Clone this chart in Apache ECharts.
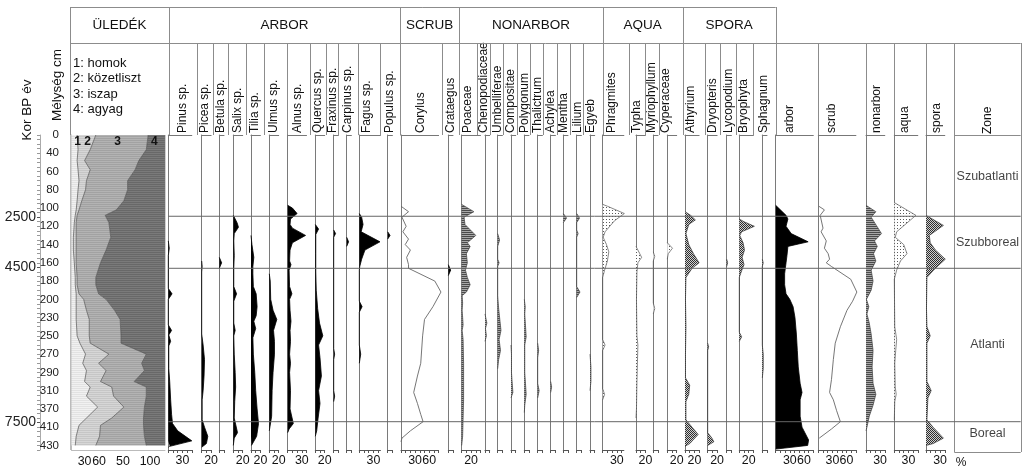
<!DOCTYPE html>
<html><head><meta charset="utf-8">
<script src="https://cdn.jsdelivr.net/npm/echarts@6/dist/echarts.min.js"></script>
<style>html,body{margin:0;padding:0;background:#fff}#c{width:1024px;height:473px}</style>
</head><body><div id="c"></div>
<script>
// ---------- DATA ----------
// depth scale (cm) – labels are equally spaced slots on the diagram
const depthLabels = [0,40,60,80,100,120,140,160,180,200,230,250,270,290,310,370,410,430];
const ageLabels = [2500, 4500, 7500];
const agePos = [4.5, 7.25, 15.75];          // position on depth-slot scale
const zoneBounds = [0, 4.45, 7.3, 15.72, 17.0];
const zoneNames = ['Szubatlanti','Szubboreal','Atlanti','Boreal'];
const groupNames = ['ÜLEDÉK','ARBOR','SCRUB','NONARBOR','AQUA','SPORA'];
const legendLines = ['1: homok','2: közetliszt','3: iszap','4: agyag'];
const sedNums = ['1','2','3','4'];
const sedScaleLabels = ['30','60','50','100'];

// sediment composition (%), by depth slot
const sedDepth   = [0,0.8,1.4,1.9,2.5,3.0,3.6,4.1,4.4,4.8,5.6,6.3,7.0,7.8,8.2,8.7,9.0,9.6,10.1,11.0,11.4,12.0,12.5,12.9,13.5,13.8,14.3,14.9,15.5,15.9,16.5,17.0];
const homok      = [6,7,6,7,8,7,6,5,4,3,2,2,3,4,4,5,5,5,5,6,9,15,12,16,14,20,16,28,16,8,5,4];
const kozetliszt = [20,13,8,13,8,8,5,3,2,2,3,3,2,2,2,3,8,11,14,13,11,25,17,21,17,23,29,28,27,23,25,22];
const iszap      = [56,60,58,48,44,45,45,40,30,35,37,32,26,20,20,21,24,30,33,34,33,40,46,41,36,37,35,22,34,46,48,54];
const agyag      = [18,20,28,32,40,40,44,52,64,60,58,63,69,74,74,71,63,54,48,47,47,20,25,22,33,20,20,22,23,23,22,20];

// taxa: [depth slot, %]
const pinus = [[5.8,0],[6.2,2],[6.6,0],[8.4,0],[8.7,8],[9.0,0],[10.4,0],[10.7,7],[10.95,1],[11.3,5],[11.55,1],[12.8,1],[13.5,3],[14.5,5],[15.3,7],[15.8,9],[16.2,20],[16.75,50],[17.05,3],[17.1,0]];
const picea = [[6.9,0],[7.2,1],[7.5,0],[10.9,0],[11.5,3],[12.3,6],[13.2,5],[14.0,3],[14.5,1],[15.6,1],[16.0,6],[16.5,13],[16.9,10],[17.1,0]];
const betula = [[6.7,0],[7.0,5],[7.3,0]];
const salix = [[4.4,0],[4.8,8],[5.05,11],[5.4,2],[5.8,1],[6.6,2],[7.3,1],[8.3,1],[8.7,7],[9.1,1],[10.3,1],[10.7,4],[11.0,1],[12.0,2],[13.0,4],[13.8,5],[14.6,3],[15.5,2],[16.3,9],[16.6,2],[17.0,0]];
const tilia = [[5.5,0],[6.0,2],[6.7,6],[7.2,4],[7.6,4],[8.3,5],[8.7,11],[9.4,13],[9.9,11],[10.2,6],[10.6,10],[11.1,4],[12.0,5],[13.0,8],[14.0,10],[15.0,13],[15.8,16],[16.5,12],[17.0,1]];
const ulmus = [[7.6,0],[8.0,2],[9.0,3],[9.6,8],[10.1,16],[10.7,9],[11.3,11],[12.0,11],[13.0,8],[14.0,6],[15.4,5],[16.2,0]];
const alnus = [[3.85,0],[4.0,10],[4.3,20],[4.6,6],[4.9,5],[5.1,10],[5.5,38],[5.9,10],[6.3,5],[6.9,4],[7.1,7],[7.4,3],[8.3,4],[8.7,9],[9.0,4],[9.6,5],[10.2,7],[10.7,5],[11.3,6],[12.0,4],[12.5,6],[13.0,4],[14.0,6],[15.0,5],[15.8,12],[16.1,3],[16.3,0]];
const quercus = [[4.9,0],[5.15,7],[5.45,1],[6.5,1],[7.5,1],[8.5,2],[9.5,5],[10.3,9],[11.0,16],[11.5,7],[12.2,10],[13.2,13],[14.0,7],[14.7,10],[15.5,6],[16.2,3],[16.5,0]];
const fraxinus = [[5.2,0],[5.4,4],[5.6,0],[11.7,0],[12.0,2],[12.3,0],[14.0,0],[14.3,2],[14.6,0]];
const carpinus = [[5.6,0],[5.85,4],[6.1,0]];
const fagus = [[4.3,0],[4.5,5],[4.9,8],[5.3,4],[5.85,44],[6.3,12],[6.8,5],[7.2,1],[7.4,0],[9.1,0],[9.4,6],[9.7,0],[11.5,0],[12.0,3],[12.5,0]];
const populus = [[5.3,0],[5.5,5],[5.7,0]];
const corylus = [[3.9,0],[4.2,16],[4.5,2],[5.0,11],[5.3,4],[5.7,16],[6.0,9],[6.3,20],[6.7,12],[7.1,16],[7.3,16],[8.0,72],[8.6,85],[9.4,68],[10.1,50],[11.0,46],[12.5,42],[13.2,35],[14.1,27],[14.7,35],[15.3,42],[15.7,47],[16.2,20],[16.6,2],[16.8,0]];
const crataegus = [[7.1,0],[7.4,5],[7.7,0]];
const poaceae = [[3.8,0],[4.2,26],[4.5,5],[4.9,7],[5.5,30],[5.9,12],[6.1,18],[6.5,10],[7.0,12],[7.4,8],[7.8,12],[8.2,18],[8.6,10],[8.8,1],[9.2,2],[9.6,1],[10.4,3],[10.7,1],[11.2,3],[12.5,4],[13.5,4],[14.5,4],[15.5,3],[16.5,2],[17.0,0]];
const chenopodiaceae = [[9.8,0],[10.3,4],[10.6,1],[11.0,3],[11.3,0]];
const umbelliferae = [[5.4,0],[5.75,4],[6.1,0],[6.8,0],[7.0,3],[7.2,0],[8.8,0],[9.5,2],[10.7,7],[11.2,3],[11.8,6],[12.3,2],[12.8,0]];
const compositae = [[11.5,0],[12.0,1],[13.0,1],[14.1,4],[14.4,0]];
const polygonum = [[9.0,0],[9.4,2],[9.8,1],[11.06,4],[11.5,1],[13.0,1],[14.2,4],[14.8,1],[15.2,0]];
const thalictrum = [[11.4,0],[11.8,2],[12.2,0],[13.6,0],[14.0,3],[14.4,0]];
const achylea = [[13.5,0],[13.8,2],[14.1,0]];
const mentha = [[4.3,0],[4.55,7],[4.8,0]];
const lilium = [[4.3,0],[4.55,6],[4.8,0],[5.2,0],[5.4,3],[5.6,0],[8.3,0],[8.6,7],[8.9,0]];
const egyeb = [[12.0,0],[12.7,2],[13.5,2],[14.0,0]];
const phragmites = [[3.8,0],[3.9,10],[4.3,46],[4.7,25],[5.3,5],[5.6,1],[6.0,8],[6.4,13],[6.9,10],[7.4,4],[7.8,0],[11.2,0],[11.5,5],[11.8,0],[13.9,0],[14.2,4],[14.5,0]];
const typha = [[6.1,0],[6.5,8],[6.7,12],[7.0,4],[7.5,2],[9.0,1],[11.0,2],[11.5,4],[12.5,3],[13.5,2],[15.0,1],[15.5,0]];
const myriophyllum = [[6.4,0],[6.67,3],[6.9,0],[9.2,0],[9.5,3],[9.8,0]];
const cyperaceae = [[5.9,0],[6.2,11],[6.5,2],[6.8,0]];
const athyrium = [[4.2,0],[4.4,12],[4.65,22],[4.9,8],[5.4,2],[6.0,8],[6.5,18],[7.0,30],[7.3,15],[7.8,2],[9.0,1],[10.5,2],[12.0,1],[13.3,1],[13.7,10],[14.2,8],[14.6,2],[15.6,2],[16.0,15],[16.4,28],[16.9,10],[17.05,0]];
const dryopteris = [[11.4,0],[11.6,2],[11.8,0],[16.3,0],[16.6,9],[16.8,13],[17.0,0]];
const lycopodium = [[6.8,0],[7.0,2],[7.2,0]];
const bryophyta = [[4.6,0],[4.75,10],[5.0,32],[5.3,5],[5.5,1],[5.9,8],[6.3,11],[6.7,6],[7.1,10],[7.5,4],[7.8,0],[10.8,0],[11.06,5],[11.3,0]];
const sphagnum = [[6.8,0],[7.0,2],[7.2,0],[11.5,0],[12.0,2],[12.8,2],[13.3,0]];
const arborSum = [[3.85,0],[4.4,22],[4.6,26],[5.0,22],[5.4,33],[5.85,69],[6.1,26],[6.6,24],[7.0,22],[7.6,19],[8.2,19],[8.7,22],[9.0,30],[9.4,37],[10.0,41],[10.9,44],[11.8,46],[12.7,48],[13.6,52],[14.1,56],[14.5,52],[15.4,52],[16.0,56],[16.7,70],[17.0,68],[17.2,0]];
const scrubSum = [[3.9,1],[4.1,13],[4.4,4],[5.1,10],[5.3,6],[5.8,17],[6.2,13],[6.5,21],[6.8,24],[7.0,17],[7.2,28],[7.9,69],[8.6,82],[9.1,73],[9.6,61],[10.5,47],[11.4,36],[12.3,32],[13.4,28],[14.1,24],[14.5,32],[15.1,39],[15.7,47],[16.1,28],[16.6,2]];
const nonarborSum = [[3.85,0],[4.2,21],[4.5,11],[4.95,22],[5.4,33],[5.8,18],[6.1,24],[6.5,16],[6.9,21],[7.4,11],[8.0,15],[8.5,11],[9.0,1],[9.4,6],[9.8,2],[10.3,7],[10.9,11],[11.8,15],[12.7,13],[13.6,15],[14.2,21],[14.8,15],[15.4,7],[16.0,2],[16.2,0]];
const aquaSum = [[3.7,0],[4.4,46],[5.3,5],[5.6,2],[6.0,20],[6.5,27],[6.9,13],[7.4,5],[7.9,0],[10.5,1],[11.2,5],[11.8,3],[12.5,1],[13.8,2],[14.2,4],[14.6,1],[15.6,0]];
const sporaSum = [[4.4,0],[4.7,20],[4.95,37],[5.5,7],[5.9,9],[6.3,20],[6.8,41],[7.35,18],[7.8,2],[9.5,1],[10.5,2],[11.0,9],[11.4,2],[13.5,2],[14.0,11],[14.4,4],[15.6,2],[16.0,15],[16.6,37],[16.9,15],[17.0,0]];

// scale tick labels
const L30 = [30], L20 = [20], L3060 = [30, 60], L0 = [];

// ---------- LAYOUT ----------
const F = 'Liberation Sans, Arial, Helvetica, sans-serif';
const SCALE = 0.47, TOP = 135, H = 315, STEP = 0.05, NCAT = 346;
const TICKFONT = 12.4;
const cats = Array.from({length: NCAT}, (_, i) => String(i));
const ci = p => Math.round(p / STEP);

// [label, data, baseline x, axis max, tick labels, label x, style]
const cols = [
  ['Pinus sp.', pinus, 168.3, 50, L30, 183, 'arb'],
  ['Picea sp.', picea, 201.7, 20, L20, 205, 'arb'],
  ['Betula sp.', betula, 219.3, 10, L0, 221, 'arb'],
  ['Salix sp.', salix, 233.3, 20, L20, 238, 'arb'],
  ['Tilia sp.', tilia, 251, 20, L20, 255, 'arb'],
  ['Ulmus sp.', ulmus, 269.3, 20, L20, 274, 'arb'],
  ['Alnus sp.', alnus, 287.7, 40, L30, 298, 'arb'],
  ['Quercus sp.', quercus, 315.3, 20, L20, 318, 'arb'],
  ['Fraxinus sp.', fraxinus, 333.7, 10, L0, 333, 'arb'],
  ['Carpinus sp.', carpinus, 346.7, 10, L0, 348, 'arb'],
  ['Fagus sp.', fagus, 359.3, 45, L30, 367, 'arb'],
  ['Populus sp.', populus, 387.7, 10, L0, 390, 'arb'],
  ['Corylus', corylus, 401, 80, L3060, 421, 'scr'],
  ['Crataegus', crataegus, 448.3, 10, L0, 451, 'arb'],
  ['Poaceae', poaceae, 461.7, 40, L20, 468, 'non'],
  ['Chenopodiaceae', chenopodiaceae, 485, 10, L0, 484, 'non'],
  ['Umbelliferae', umbelliferae, 497.7, 10, L0, 498, 'non'],
  ['Compositae', compositae, 511, 10, L0, 511, 'non'],
  ['Polygonum', polygonum, 524.3, 10, L0, 525, 'non'],
  ['Thalictrum', thalictrum, 537.7, 10, L0, 538, 'non'],
  ['Achylea', achylea, 550.7, 10, L0, 551, 'non'],
  ['Mentha', mentha, 563.3, 10, L0, 564, 'non'],
  ['Lilium', lilium, 576.7, 10, L0, 578, 'non'],
  ['Egyeb', egyeb, 590, 10, L0, 591, 'non'],
  ['Phragmites', phragmites, 602.7, 45, L30, 612, 'aqu'],
  ['Typha', typha, 636, 20, L20, 637, 'aqu'],
  ['Myriophyllum', myriophyllum, 653.3, 10, L0, 652, 'aqu'],
  ['Cyperaceae', cyperaceae, 667.3, 20, L20, 666, 'aqu'],
  ['Athyrium', athyrium, 685, 30, L20, 691, 'spo'],
  ['Dryopteris', dryopteris, 707.7, 20, L20, 713, 'spo'],
  ['Lycopodium', lycopodium, 726.7, 10, L0, 729, 'spo'],
  ['Bryophyta', bryophyta, 739.3, 30, L20, 744, 'spo'],
  ['Sphagnum', sphagnum, 762.3, 10, L0, 764, 'spo'],
  ['arbor', arborSum, 775.7, 80, L3060, 790, 'arb'],
  ['scrub', scrubSum, 818.3, 80, L3060, 832, 'scr'],
  ['nonarbor', nonarborSum, 866, 40, L30, 877, 'non'],
  ['aqua', aquaSum, 894.3, 50, L30, 905, 'aqu'],
  ['spora', sporaSum, 926, 40, L30, 937, 'spo']
];
const hdrSeps = [70,169,197,213,228,246,264,287,310,326,338,358,380,400,441.7,459.3,476.7,490,503.3,516.7,530,543.3,556.7,570,582.7,602.7,629.3,645,659.3,682.7,705,720,736,752.7,775.7,818.3,866,894.3,926,954.3,1020.7];
const groupSeps = [70,169,400,459.3,602.7,682.7,775.7];
const sedNumX = [77.7, 87.7, 117.7, 154.3];
const sedScaleAt = [14, 29.5, 55, 84];

function pat(w, h, draw) {
  const c = document.createElement('canvas'); c.width = w; c.height = h;
  draw(c.getContext('2d')); return {image: c, repeat: 'repeat'};
}
const hatch = pat(4, 2, g => { g.fillStyle = '#a8a8a8'; g.fillRect(0,0,4,2); g.fillStyle = '#4a4a4a'; g.fillRect(0,0,4,1); });
const lightDots = pat(3, 3, g => { g.fillStyle = '#fff'; g.fillRect(0,0,3,3); g.fillStyle = '#5a5a5a'; g.fillRect(0,0,1,1); });
const darkDots = pat(2, 2, g => { g.fillStyle = '#d0d0d0'; g.fillRect(0,0,2,2); g.fillStyle = '#2e2e2e'; g.fillRect(0,0,1,1); g.fillRect(1,1,1,1); });
const sedFill = [
  pat(4,2,g=>{g.fillStyle='#f1f1f1';g.fillRect(0,0,4,2);g.fillStyle='#e2e2e2';g.fillRect(0,0,4,1);}),
  pat(4,2,g=>{g.fillStyle='#d6d6d6';g.fillRect(0,0,4,2);g.fillStyle='#c6c6c6';g.fillRect(0,0,4,1);}),
  pat(4,2,g=>{g.fillStyle='#b3b3b3';g.fillRect(0,0,4,2);g.fillStyle='#a2a2a2';g.fillRect(0,0,4,1);}),
  pat(4,2,g=>{g.fillStyle='#7a7a7a';g.fillRect(0,0,4,2);g.fillStyle='#686868';g.fillRect(0,0,4,1);})
];
const styles = {
  arb: {line: {color: '#000', width: 0.8}, area: {color: '#000', opacity: 1}},
  scr: {line: {color: '#666', width: 0.9}, area: null},
  non: {line: {color: '#444', width: 0.7}, area: {color: hatch, opacity: 1}},
  aqu: {line: {color: '#555', width: 0.7}, area: {color: lightDots, opacity: 1}},
  spo: {line: {color: '#333', width: 0.7}, area: {color: darkDots, opacity: 1}}
};

const grid = [], xAxis = [], yAxis = [], series = [], elements = [];
function addGrid(left, width) { grid.push({left, top: TOP, width, height: H}); return grid.length - 1; }
function yCat(g, extra) {
  return Object.assign({gridIndex: g, type: 'category', data: cats, inverse: true, boundaryGap: false,
    axisLine: {show: false}, axisTick: {show: false}, axisLabel: {show: false}, splitLine: {show: false}}, extra || {});
}
function hidX(g, min, max) { return {gridIndex: g, type: 'value', min, max, show: false}; }

// depth axis + age axis
{
  const g = addGrid(40, 1);
  xAxis.push(hidX(g, 0, 1));
  yAxis.push(yCat(g, {
    position: 'left',
    axisLine: {show: true, onZero: false, lineStyle: {color: '#aaa'}},
    axisTick: {show: true, interval: i => i % 5 === 0, length: 3, lineStyle: {color: '#999'}},
    axisLabel: {show: true, inside: true, margin: 19, align: 'right', fontSize: 11.5, color: '#222', fontFamily: F,
      interval: i => i % 20 === 0 && i / 20 < depthLabels.length,
      formatter: v => String(depthLabels[Number(v) / 20])}
  }));
  const ageIdx = agePos.map(ci);
  yAxis.push(yCat(g, {
    position: 'left', offset: 0,
    axisTick: {show: true, interval: i => ageIdx.includes(i), length: 3, lineStyle: {color: '#555'}},
    axisLabel: {show: true, margin: 4, fontSize: 14, color: '#222', fontFamily: F,
      interval: i => ageIdx.includes(i),
      formatter: v => String(ageLabels[ageIdx.indexOf(Number(v))])}
  }));
}

// sediment panel
{
  const g = addGrid(71.5, 93.5);
  const xi = xAxis.length;
  xAxis.push({gridIndex: g, type: 'value', min: 0, max: 100,
    axisLine: {show: true, onZero: false, lineStyle: {color: '#bbb'}}, axisTick: {show: false},
    axisLabel: {show: true, customValues: sedScaleAt, margin: 6, fontSize: TICKFONT, color: '#111', fontFamily: F,
      showMinLabel: true, showMaxLabel: true, hideOverlap: false,
      formatter: v => sedScaleLabels[sedScaleAt.indexOf(v)]},
    splitLine: {show: false}});
  yAxis.push(yCat(g, {axisLine: {show: true, onZero: false, lineStyle: {color: '#bbb'}}}));
  const yi = yAxis.length - 1;
  [homok, kozetliszt, iszap, agyag].forEach((arr, k) => {
    series.push({type: 'line', stack: 'sed', xAxisIndex: xi, yAxisIndex: yi, symbol: 'none', silent: true,
      data: arr.map((v, j) => [v, ci(sedDepth[j])]),
      lineStyle: {color: k === 3 ? '#777' : '#555', width: 0.7},
      areaStyle: {color: sedFill[k], opacity: 1}, z: 2});
  });
}

// taxa columns
cols.forEach(c => {
  const [name, data, x, max, labs, lx, sty] = c;
  const g = addGrid(x, max * SCALE);
  const xi = xAxis.length;
  const tickVals = []; for (let v = 0; v <= max; v += 10) tickVals.push(v);
  xAxis.push({gridIndex: g, type: 'value', min: 0, max, position: 'bottom',
    axisLine: {show: true, onZero: false, lineStyle: {color: '#555', width: 1}},
    axisTick: {show: true, length: 3, customValues: tickVals, lineStyle: {color: '#555'}},
    axisLabel: labs.length ? {show: true, customValues: labs, margin: 5, fontSize: TICKFONT, color: '#111', fontFamily: F,
                              showMinLabel: true, showMaxLabel: true, hideOverlap: false}
                           : {show: false},
    splitLine: {show: false}});
  xAxis.push({gridIndex: g, type: 'value', min: 0, max, position: 'top',
    axisLine: {show: true, onZero: false, lineStyle: {color: '#777', width: 1}},
    axisTick: {show: false}, axisLabel: {show: false}, splitLine: {show: false}});
  yAxis.push(yCat(g, {axisLine: {show: true, onZero: false, lineStyle: {color: '#7a7a7a', width: 1}}}));
  const st = styles[sty];
  const s = {type: 'line', xAxisIndex: xi, yAxisIndex: yAxis.length - 1, symbol: 'none', clip: false, silent: true,
    data: data.map(p => [p[1], ci(p[0])]), lineStyle: st.line, z: 2};
  if (st.area) s.areaStyle = st.area;
  series.push(s);
  elements.push({type: 'text', x: lx, y: 133, rotation: Math.PI / 2, silent: true,
    style: {text: name, fontSize: 12, fontFamily: F, fill: '#111', align: 'left', verticalAlign: 'middle'}});
});

// zone boundary lines across diagram
{
  const g = addGrid(168.3, 852.4);
  xAxis.push(hidX(g, 0, 1));
  yAxis.push(yCat(g));
  const xi = xAxis.length - 1, yi = yAxis.length - 1;
  zoneBounds.slice(1, 4).forEach(b => {
    series.push({type: 'line', xAxisIndex: xi, yAxisIndex: yi, symbol: 'none', silent: true, z: 5,
      data: [[0, ci(b)], [1, ci(b)]], lineStyle: {color: '#666', width: 1}});
  });
}
// zone names
{
  const g = addGrid(954.3, 66.4);
  xAxis.push(hidX(g, 0, 1));
  yAxis.push(yCat(g));
  series.push({type: 'scatter', xAxisIndex: xAxis.length - 1, yAxisIndex: yAxis.length - 1, silent: true,
    symbolSize: 1, itemStyle: {color: 'rgba(0,0,0,0)'},
    label: {show: true, position: 'inside', formatter: p => p.name, fontSize: 12.5, color: '#111', fontFamily: F},
    data: zoneNames.map((n, k) => ({name: n, value: [0.5, ci((zoneBounds[k] + zoneBounds[k + 1]) / 2)]}))});
}

// ---------- header / frames ----------
const LC = '#8c8c8c';
function ln(x1, y1, x2, y2, col) {
  elements.push({type: 'line', silent: true, shape: {x1, y1, x2, y2}, style: {stroke: col || LC, lineWidth: 1}});
}
const r = v => Math.round(v) + 0.5;
ln(70, r(7), 775.7, r(7));
ln(70, r(43), 1020.7, r(43));
groupSeps.forEach(x => ln(r(x), 7, r(x), 43));
hdrSeps.forEach(x => ln(r(x), 43, r(x), 135));
ln(r(70), 135, r(70), 450, '#bbb');
ln(r(954.3), 135, r(954.3), 452);
ln(r(1020.7), 135, r(1020.7), 452);
ln(954.3, r(135), 1020.7, r(135));
ln(954.3, r(452), 1020.7, r(452));
groupNames.forEach((n, k) => {
  elements.push({type: 'text', silent: true, x: (groupSeps[k] + groupSeps[k + 1]) / 2, y: 25,
    style: {text: n, fontSize: 13.5, fontFamily: F, fill: '#111', align: 'center', verticalAlign: 'middle'}});
});
legendLines.forEach((t, k) => {
  elements.push({type: 'text', silent: true, x: 73, y: 63 + k * 15.5,
    style: {text: t, fontSize: 13, fontFamily: F, fill: '#111', align: 'left', verticalAlign: 'middle'}});
});
sedNums.forEach((t, k) => {
  elements.push({type: 'text', silent: true, x: sedNumX[k], y: 142, z: 10,
    style: {text: t, fontSize: 12, fontWeight: 'bold', fontFamily: F, fill: '#111', align: 'center', verticalAlign: 'middle'}});
});
elements.push({type: 'text', silent: true, x: 27, y: 110, rotation: Math.PI / 2,
  style: {text: 'Kor BP év', fontSize: 13.5, fontFamily: F, fill: '#111', align: 'center', verticalAlign: 'middle'}});
elements.push({type: 'text', silent: true, x: 57, y: 85, rotation: Math.PI / 2,
  style: {text: 'Mélység cm', fontSize: 13.5, fontFamily: F, fill: '#111', align: 'center', verticalAlign: 'middle'}});
elements.push({type: 'text', silent: true, x: 988, y: 134, rotation: Math.PI / 2,
  style: {text: 'Zone', fontSize: 12, fontFamily: F, fill: '#111', align: 'left', verticalAlign: 'middle'}});
elements.push({type: 'text', silent: true, x: 961, y: 463,
  style: {text: '%', fontSize: 12, fontFamily: F, fill: '#111', align: 'center', verticalAlign: 'middle'}});

const chart = echarts.init(document.getElementById('c'), null, {renderer: 'canvas'});
chart.setOption({
  animation: false,
  backgroundColor: '#fff',
  textStyle: {fontFamily: F},
  grid, xAxis, yAxis, series,
  graphic: {elements}
});
</script>
</body></html>
